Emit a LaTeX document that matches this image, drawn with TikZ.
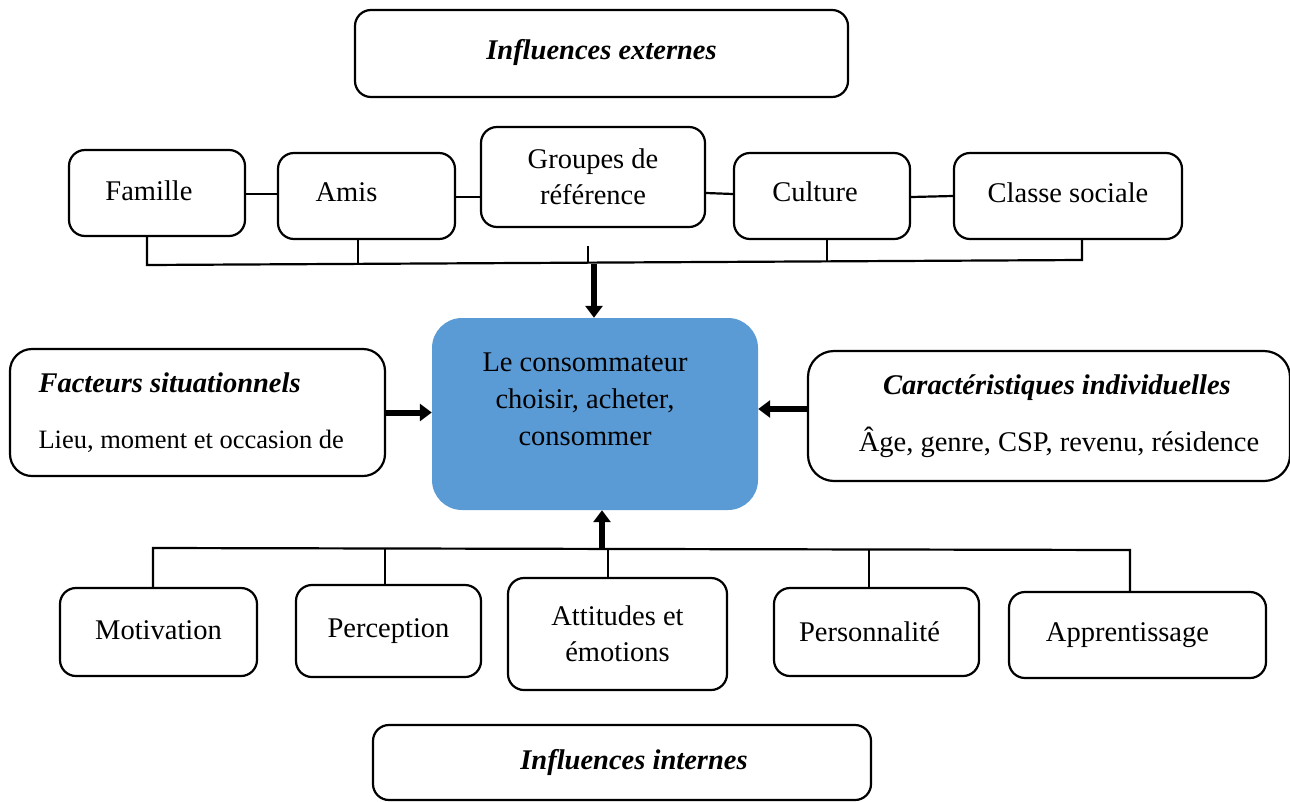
\documentclass[tikz,border=0pt]{standalone}
\usepackage{fontspec}
\setmainfont{Liberation Serif}
\usetikzlibrary{arrows.meta}
\definecolor{consblue}{HTML}{5B9BD5}

\begin{document}
\begin{tikzpicture}[x=1pt,y=-1pt,
        every node/.style={font=\fontsize{28.5}{36}\selectfont},
        box/.style={draw,line width=2.2pt,rounded corners=16pt,inner sep=0pt,align=center},
        hub/.style={fill=consblue,rounded corners=30pt,inner sep=0pt},
        link/.style={line width=2.2pt},
        bigarrow/.style={line width=6pt,-{Triangle[width=17pt,length=12pt]}}]
        \useasboundingbox (0,0) rectangle (1290,801);

        % influences externes
        \node[box,minimum width=493,minimum height=87] (ext) at (601.5,53.5) {\raisebox{8pt}{\textbf{\textit{Influences externes}}}};
        \node[box,minimum width=176,minimum height=86] (fam) at (157,193) {\raisebox{5pt}{Famille}\hspace{16pt}};
        \node[box,minimum width=177,minimum height=86] (ami) at (366.5,196) {\raisebox{8pt}{Amis}\hspace{40pt}};
        \node[box,minimum width=224,minimum height=100] (grp) at (593,177) {Groupes de\\référence};
        \node[box,minimum width=176,minimum height=86] (cul) at (822,196) {\raisebox{8pt}{Culture}\hspace{14pt}};
        \node[box,minimum width=228,minimum height=86] (cls) at (1068,196) {\raisebox{6pt}{Classe sociale}};

        \draw[link] (fam.east |- 0,194) -- (ami.west |- 0,194);
        \draw[link] (ami.east |- 0,197) -- (grp.west |- 0,197);
        \draw[link] (grp.east |- 0,193) -- (cul.west |- 0,194);
        \draw[link] (cul.east |- 0,197) -- (cls.west |- 0,196);

        \coordinate (tfam) at (147,265);
        \coordinate (tami) at (358,264);
        \coordinate (tgrp) at (588,263);
        \coordinate (tcul) at (827,262);
        \coordinate (tcls) at (1082,260);
        \coordinate (tin) at (594,264);
        \draw[link] (tfam |- fam.south) -- (tfam) -- (tcls) -- (tcls |- cls.south);
        \draw[link] (tami |- ami.south) -- (tami);
        \draw[link] (588,246) -- (tgrp);
        \draw[link] (tcul |- cul.south) -- (tcul);

        % consommateur
        \node[hub,minimum width=326,minimum height=192] (cons) at (595,414) {};
        \node[align=center] (constxt) at ([shift={(-10,-15)}]cons.center) {Le consommateur\\[1pt]choisir, acheter,\\[1pt]consommer};
        \draw[bigarrow] (tin) -- (tin |- cons.north);

        \node[box,rounded corners=22pt,minimum width=375,minimum height=127,text width=318,align=flush left] (fact) at (197.5,412.5)
            {\textbf{\textit{Facteurs situationnels}}\\[20pt]{\fontsize{26.5}{30}\selectfont Lieu, moment et occasion de}};
        \draw[bigarrow] (fact.east) -- (fact.east -| cons.west);

        \node[box,rounded corners=26pt,minimum width=482,minimum height=130] (carac) at (1049,416)
            {\hspace{16pt}\textbf{\textit{Caractéristiques individuelles}}\\[21pt]\hspace{20pt}Âge, genre, CSP, revenu, résidence};
        \draw[bigarrow] ([yshift=7pt]carac.west) -- ([yshift=7pt]carac.west -| cons.east);

        % influences internes
        \node[box,minimum width=197,minimum height=88] (mot) at (158.5,632) {\raisebox{3pt}{Motivation}};
        \node[box,minimum width=185,minimum height=92] (per) at (388.5,631) {\raisebox{5pt}{Perception}};
        \node[box,minimum width=219,minimum height=112] (att) at (617.5,634) {Attitudes et\\émotions};
        \node[box,minimum width=205,minimum height=88] (pers) at (876.5,632) {Personnalité\hspace{14pt}};
        \node[box,minimum width=257,minimum height=86] (app) at (1137.5,635) {\raisebox{4pt}{Apprentissage}\hspace{20pt}};
        \node[box,minimum width=498,minimum height=75] (int) at (622,762.5) {\hspace{24pt}\textbf{\textit{Influences internes}}};

        \coordinate (bmot) at (153,548);
        \coordinate (bper) at (385,548);
        \coordinate (batt) at (608,549);
        \coordinate (bpers) at (869,549);
        \coordinate (bapp) at (1130,550);
        \coordinate (bout) at (602,548);
        \draw[link] (bmot |- mot.north) -- (bmot) -- (bapp) -- (bapp |- app.north);
        \draw[link] (bper |- per.north) -- (bper);
        \draw[link] (batt |- att.north) -- (batt);
        \draw[link] (bpers |- pers.north) -- (bpers);
        \draw[bigarrow] (bout) -- (bout |- cons.south);
\end{tikzpicture}
\end{document}
